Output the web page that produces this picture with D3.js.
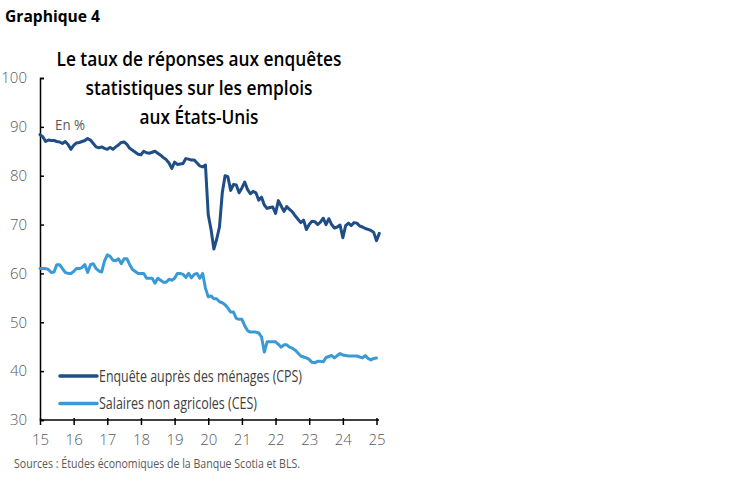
<!DOCTYPE html>
<html>
<head>
<meta charset="utf-8">
<script src="https://cdn.jsdelivr.net/npm/d3@7"></script>
<style>
  html, body { margin: 0; padding: 0; background: #fff; }
  svg { display: block; }
</style>
</head>
<body>
<svg id="chart" width="749" height="482"></svg>
<script>
// ---- Data (monthly, from Jan 2015) ----
const startYear = 2015;
const cpsValues = [
  88.4, 88.0, 87.0, 87.3, 87.2, 87.2, 87.0, 86.9, 86.6, 87.0, 86.4, 85.4,
  86.2, 86.7, 86.8, 87.0, 87.2, 87.6, 87.3, 86.6, 85.9, 85.7, 85.9, 85.6,
  85.4, 85.8, 85.4, 85.9, 86.3, 86.8, 86.9, 86.4, 85.6, 85.2, 84.8, 84.4,
  84.3, 85.0, 84.7, 84.6, 84.8, 85.0, 84.6, 84.2, 83.7, 83.3, 82.6, 81.5,
  82.8, 82.3, 82.4, 82.5, 83.5, 83.4, 83.2, 83.2, 82.6, 82.0, 81.8, 82.2,
  72.0, 69.0, 65.0, 67.0, 69.5, 76.5, 80.0, 79.8, 77.0, 78.2, 78.1, 76.5,
  77.5, 78.7, 77.2, 76.3, 76.8, 76.5, 75.0, 75.6, 74.0, 73.3, 73.5, 73.6,
  72.3, 74.9, 73.8, 72.7, 73.7, 73.1, 72.6, 71.8, 71.1, 70.4, 70.9, 69.0,
  70.0, 70.7, 70.6, 70.0, 70.5, 71.3, 70.0, 71.2, 70.0, 69.3, 69.5, 69.9,
  67.3, 69.8, 70.3, 69.8, 70.4, 70.3, 69.7, 69.5, 69.2, 69.0, 68.8, 68.4,
  66.7, 68.2
];
const cesValues = [
  61.0, 61.0, 61.0, 60.8, 60.2, 60.3, 61.8, 61.8, 61.0, 60.2, 60.0, 60.0,
  60.4, 61.0, 61.0, 61.2, 61.8, 60.2, 61.8, 62.0, 61.0, 60.5, 60.3, 62.5,
  63.8, 63.5, 62.7, 62.6, 63.0, 62.0, 63.0, 63.0, 61.8, 60.8, 60.4, 60.0,
  60.0, 60.0, 59.0, 59.0, 59.0, 58.0, 59.0, 58.6, 58.2, 58.2, 58.8, 58.6,
  59.0, 60.0, 60.0, 59.8, 59.2, 60.0, 59.1, 59.8, 60.0, 59.0, 60.0, 57.0,
  55.2, 55.4, 54.8, 54.8, 54.2, 54.0, 53.6, 52.9, 52.1, 52.1, 50.8, 50.6,
  50.6, 49.3, 48.3, 48.0, 48.0, 48.0, 47.8, 47.0, 43.9, 46.0, 46.0, 46.0,
  46.0, 45.5, 44.9, 45.4, 45.4, 44.9, 44.7, 44.3, 43.7, 43.1, 42.9, 42.7,
  42.4, 41.8, 41.7, 42.0, 42.0, 41.9, 42.8, 43.0, 43.2, 42.7, 43.2, 43.6,
  43.3, 43.2, 43.1, 43.1, 43.1, 43.1, 42.9, 42.7, 43.2, 42.6, 42.3, 42.6,
  42.7
];
const yTicks = [30, 40, 50, 60, 70, 80, 90, 100];
const xTicks = [2015, 2016, 2017, 2018, 2019, 2020, 2021, 2022, 2023, 2024, 2025];
const xTickLabels = ["15", "16", "17", "18", "19", "20", "21", "22", "23", "24", "25"];
const seriesNames = ["Enquête auprès des ménages (CPS)", "Salaires non agricoles (CES)"];
const titleLines = ["Le taux de réponses aux enquêtes", "statistiques sur les emplois", "aux États-Unis"];

// ---- Build ----
const svg = d3.select("#chart");
const font = "'Open Sans', 'Noto Sans', sans-serif";
const colors = ["#1F4E86", "#3A9AD5"];

const x = d3.scaleLinear().domain([2015, 2025]).range([40, 376.5]);
const y = d3.scaleLinear().domain([30, 100]).range([420, 78]);

const toPts = vals => vals.map((v, i) => ({ t: startYear + i / 12, v }));
const series = [toPts(cpsValues), toPts(cesValues)];

// Header
svg.append("text").attr("x", 5).attr("y", 22)
  .attr("font-family", font).attr("font-weight", 700).attr("font-size", 16)
  .attr("fill", "#000").attr("textLength", 95).attr("lengthAdjust", "spacingAndGlyphs")
  .text("Graphique 4");

// Title
const titleWidths = [285, 227, 119];
const titleBase = [66, 95, 124];
titleLines.forEach((t, i) => {
  svg.append("text").attr("x", 199).attr("y", titleBase[i])
    .attr("text-anchor", "middle")
    .attr("font-family", font).attr("font-weight", 600).attr("font-size", 20.5)
    .attr("fill", "#000")
    .attr("textLength", titleWidths[i]).attr("lengthAdjust", "spacingAndGlyphs")
    .text(t);
});

// Y axis
const yAxis = d3.axisLeft(y).tickValues(yTicks).tickSize(-4).tickPadding(13);
const gy = svg.append("g").attr("transform", "translate(40,0)").call(yAxis);
gy.select(".domain").attr("stroke", "#000").attr("stroke-width", 1.5);
gy.selectAll(".tick line").attr("stroke", "#000").attr("stroke-width", 1.5);
gy.selectAll(".tick text").attr("font-family", font).attr("font-size", 15)
  .attr("fill", "#595959").attr("font-weight", 300);

// X axis
const xAxis = d3.axisBottom(x).tickValues(xTicks)
  .tickFormat((d, i) => xTickLabels[i]).tickSize(5).tickPadding(9);
const gx = svg.append("g").attr("transform", "translate(0,420)").call(xAxis);
gx.select(".domain").attr("stroke", "#000").attr("stroke-width", 1.5)
  .attr("d", "M40,0H379");
gx.selectAll(".tick line").attr("stroke", "#000").attr("stroke-width", 1.5).attr("y1", -2);
gx.selectAll(".tick text").attr("font-family", font).attr("font-size", 15)
  .attr("fill", "#595959").attr("font-weight", 300);

// "En %"
svg.append("text").attr("x", 55).attr("y", 130)
  .attr("font-family", font).attr("font-size", 14).attr("fill", "#595959")
  .attr("textLength", 30).attr("lengthAdjust", "spacingAndGlyphs")
  .text("En %");

// Lines
const line = d3.line().x(d => x(d.t)).y(d => y(d.v));
series.forEach((s, i) => {
  svg.append("path").datum(s)
    .attr("fill", "none").attr("stroke", colors[i]).attr("stroke-width", 3)
    .attr("stroke-linejoin", "round").attr("stroke-linecap", "round")
    .attr("d", line);
});

// Legend
const legY = [376, 403.5];
const legW = [203, 158];
seriesNames.forEach((n, i) => {
  svg.append("line").attr("x1", 60).attr("x2", 97).attr("y1", legY[i]).attr("y2", legY[i])
    .attr("stroke", colors[i]).attr("stroke-width", 3.5).attr("stroke-linecap", "round");
  svg.append("text").attr("x", 99).attr("y", legY[i] + 5.5)
    .attr("font-family", font).attr("font-size", 15.5).attr("fill", "#404040")
    .attr("textLength", legW[i]).attr("lengthAdjust", "spacingAndGlyphs")
    .text(n);
});

// Source
svg.append("text").attr("x", 14).attr("y", 468)
  .attr("font-family", font).attr("font-size", 12).attr("fill", "#595959")
  .attr("textLength", 286).attr("lengthAdjust", "spacingAndGlyphs")
  .text("Sources : Études économiques de la Banque Scotia et BLS.");
</script>
</body>
</html>
